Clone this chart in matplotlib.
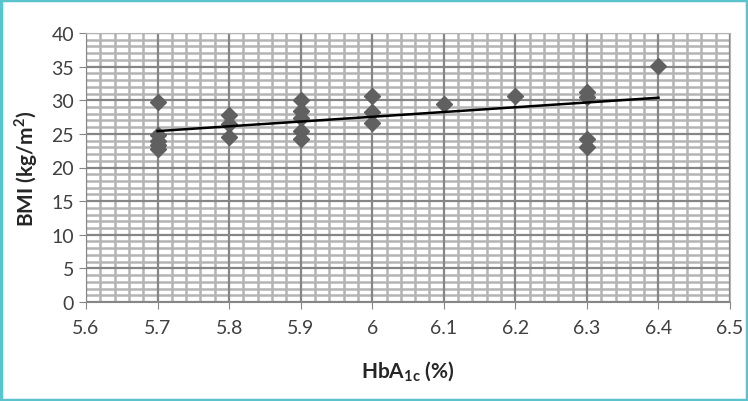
import numpy as np
import matplotlib.pyplot as plt
from matplotlib.patches import Rectangle

# HbA1c (%) vs BMI (kg/m2)
hba1c = [5.7, 5.7, 5.7, 5.7, 5.7,
         5.8, 5.8, 5.8,
         5.9, 5.9, 5.9, 5.9, 5.9,
         6.0, 6.0, 6.0,
         6.1, 6.2,
         6.3, 6.3, 6.3, 6.3,
         6.4]
bmi = [29.7, 24.8, 24.0, 23.3, 22.7,
       27.8, 26.5, 24.5,
       30.0, 28.4, 27.4, 25.5, 24.2,
       30.6, 28.3, 26.6,
       29.5, 30.6,
       31.2, 30.5, 24.3, 23.0,
       35.1]
x_ticks = [5.6, 5.7, 5.8, 5.9, 6.0, 6.1, 6.2, 6.3, 6.4, 6.5]
x_labels = ["5.6", "5.7", "5.8", "5.9", "6", "6.1", "6.2", "6.3", "6.4", "6.5"]
y_ticks = [0, 5, 10, 15, 20, 25, 30, 35, 40]

plt.rcParams['font.family'] = ['Lato', 'DejaVu Sans']
plt.rcParams['mathtext.fontset'] = 'custom'
plt.rcParams['mathtext.rm'] = 'Lato'
plt.rcParams['mathtext.bf'] = 'Lato:bold'

fig = plt.figure(figsize=(7.48, 4.02), dpi=100)
ax = fig.add_axes([86/748, 1 - 303/402, 644/748, 269/402])

# light minor grid, then dark major grid on top of it
ax.set_xticks(np.arange(5.6, 6.501, 0.02), minor=True)
ax.set_yticks(np.arange(0, 40.1, 1), minor=True)
ax.grid(which='minor', color='#b4b4b4', linewidth=1.8)
ax.set_axisbelow(True)
for xv in x_ticks:
    ax.axvline(xv, color='#868686', linewidth=1.6, zorder=1)
for yv in y_ticks:
    ax.axhline(yv, color='#868686', linewidth=1.6, zorder=1)

ax.plot(hba1c, bmi, 'D', color='#606060', markersize=8.5, zorder=3)

# linear trend
k, b = np.polyfit(hba1c, bmi, 1)
xs = np.array([min(hba1c), max(hba1c)])
ax.plot(xs, k * xs + b, color='black', linewidth=1.8, zorder=4)

ax.set_xlim(5.6, 6.5)
ax.set_ylim(0, 40)
ax.set_xticks(x_ticks)
ax.set_xticklabels(x_labels)
ax.set_yticks(y_ticks)
ax.tick_params(which='major', length=5, color='#868686', labelsize=14, labelcolor='#404040')
ax.tick_params(axis='x', pad=7)
ax.tick_params(which='minor', length=0)
for side in ['top', 'right']:
    ax.spines[side].set_color('#b4b4b4')
for side in ['left', 'bottom']:
    ax.spines[side].set_color('#868686')

ax.set_xlabel('HbA$_{\\mathbf{1c}}$ (%)', fontsize=15, fontweight='bold', labelpad=17, color='#262626')
ax.set_ylabel('BMI (kg/m$^{\\mathbf{2}}$)', fontsize=15, fontweight='bold', labelpad=8, color='#262626')

# teal frame around the figure
fig.patches.append(Rectangle((0.002, 0.003), 0.996, 0.994, transform=fig.transFigure,
                             fill=False, edgecolor='#5bc3cc', linewidth=2.5))

fig.savefig('out.png', dpi=100)
